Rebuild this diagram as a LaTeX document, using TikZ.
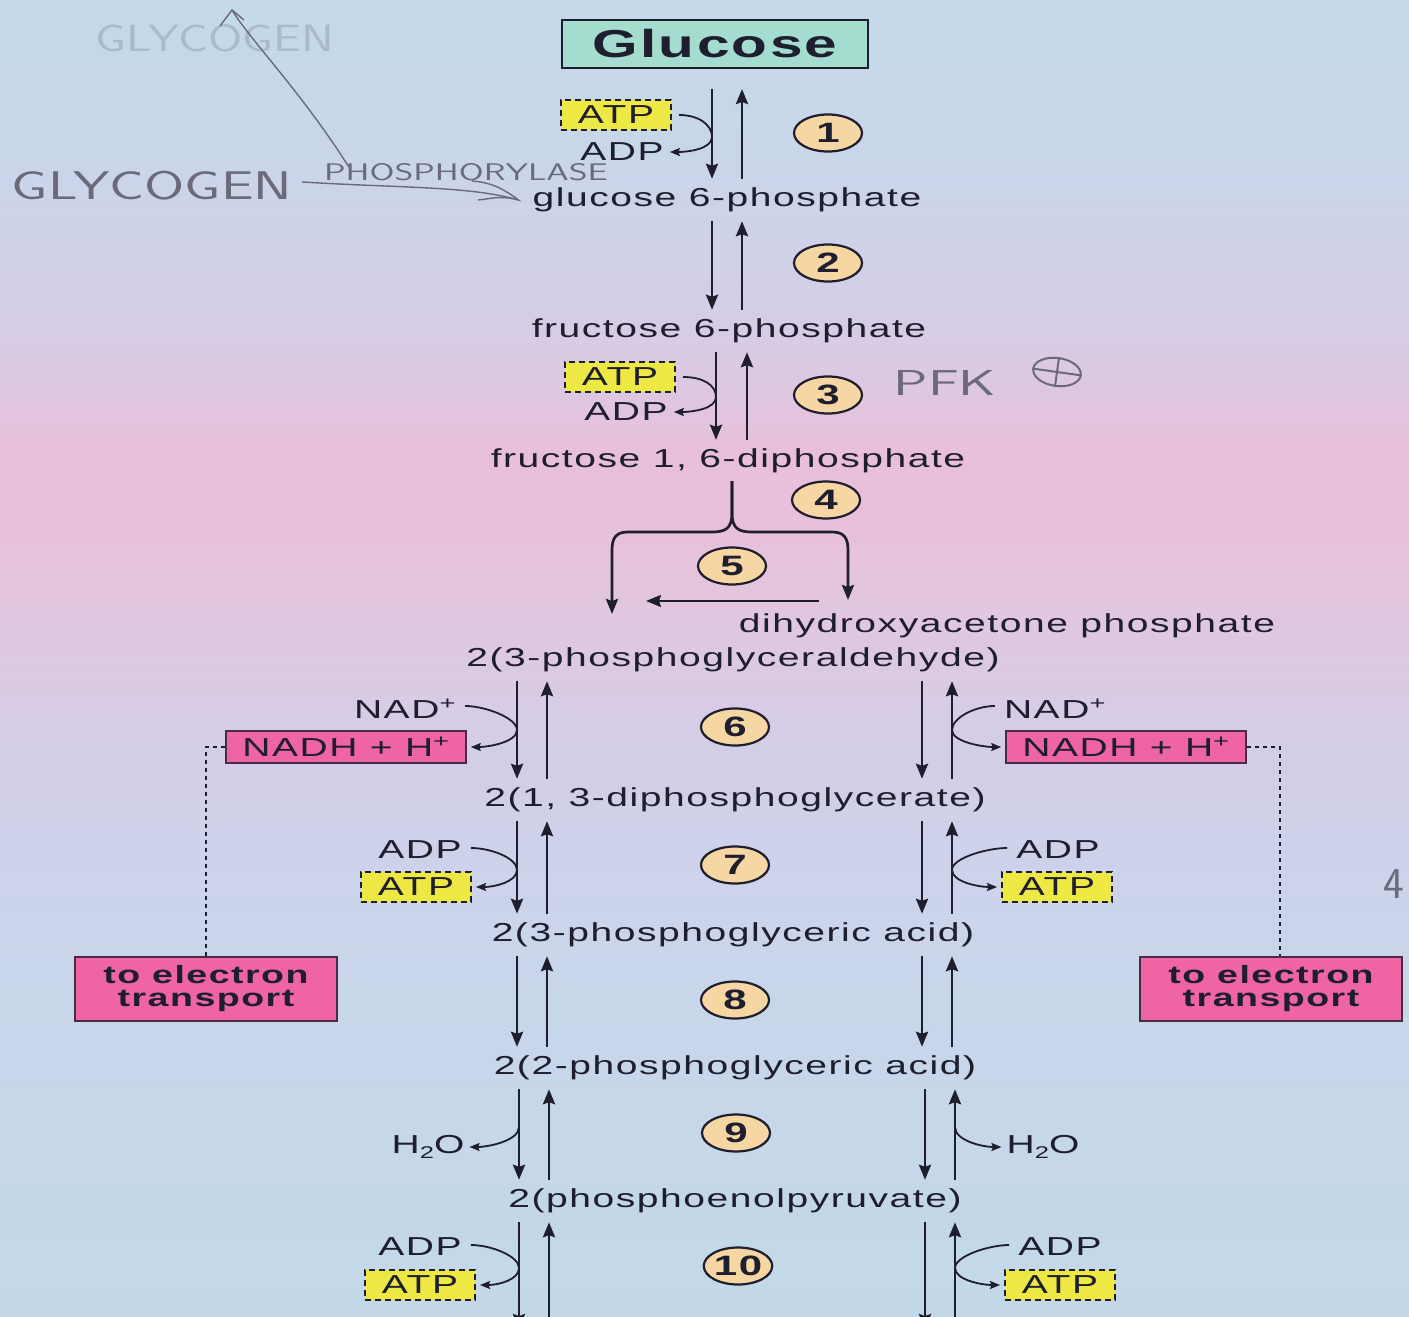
\documentclass[tikz,border=0pt]{standalone}
\usepackage{fontspec}
\setmainfont{Liberation Sans}
\newfontfamily\lab{Liberation Sans}[FakeStretch=1.5,LetterSpace=6]
\usetikzlibrary{arrows.meta,shapes.geometric}
\definecolor{ink}{HTML}{1E1E2E}
\definecolor{glcfill}{HTML}{A4DDCF}
\definecolor{atpfill}{HTML}{EEE845}
\definecolor{pinkfill}{HTML}{EE64A4}
\definecolor{numfill}{HTML}{F6D6A2}
\definecolor{handcol}{HTML}{6A6A7A}
\definecolor{bg0}{HTML}{C3D9EA}
\definecolor{bg1}{HTML}{C9D6EA}
\definecolor{bg2}{HTML}{D2CFE8}
\definecolor{bg3}{HTML}{DCC8E2}
\definecolor{bg4}{HTML}{E8C0DA}
\definecolor{bg5}{HTML}{E2C6DE}
\definecolor{bg6}{HTML}{D6CCE6}
\definecolor{bg7}{HTML}{CDD2EA}
\definecolor{bg8}{HTML}{C8D6EA}
\definecolor{bg9}{HTML}{C2D8E8}
\pgfdeclareverticalshading{bgshade}{100bp}{color(0bp)=(bg9); color(25bp)=(bg9); color(37bp)=(bg8); color(42.7bp)=(bg7); color(47.7bp)=(bg6); color(52.2bp)=(bg5); color(55bp)=(bg4); color(58bp)=(bg4); color(60.5bp)=(bg3); color(64bp)=(bg2); color(69.3bp)=(bg1); color(75bp)=(bg0); color(100bp)=(bg0)}
\newcommand{\subtwo}{\raisebox{-5pt}{\fontsize{17}{17}\selectfont 2}}
\newcommand{\hw}[2]{\scalebox{#1}[1]{#2}}
\begin{document}
\begin{tikzpicture}[x=1pt,y=-1pt,
  txt/.style={font=\lab\fontsize{26}{28}\selectfont, text=ink},
  met/.style={txt, inner sep=0pt, text height=19pt, text depth=6pt, minimum height=40pt},
  lbl/.style={txt, inner sep=1pt},
  atpbox/.style={txt, draw=ink, fill=atpfill, line width=2pt, dash pattern=on 6pt off 4pt, minimum width=110pt, minimum height=30pt, inner sep=0pt},
  nadhbox/.style={txt, draw=ink!80!pinkfill, fill=pinkfill, line width=1.6pt, minimum width=240pt, minimum height=32pt, inner sep=0pt},
  etebox/.style={font=\lab\bfseries\fontsize{25}{23}\selectfont, text=ink, draw=ink!80!pinkfill, fill=pinkfill, line width=1.6pt, minimum width=262pt, minimum height=64pt, align=center, inner sep=0pt},
  glcbox/.style={font=\lab\bfseries\fontsize{39}{40}\selectfont, text=ink, draw=ink, fill=glcfill, line width=2pt, minimum width=306pt, minimum height=48pt, inner sep=0pt},
  num/.style={ellipse, draw=ink, fill=numfill, line width=2.2pt, minimum width=68pt, minimum height=37pt, inner sep=0pt, font=\lab\bfseries\fontsize{28}{28}\selectfont, text=ink},
  rx/.style={draw=ink, line width=2.7pt, -{Stealth[length=15pt,width=12pt,inset=2pt]}, shorten <=1pt, shorten >=1pt},
  side/.style={draw=ink, line width=1.8pt, -{Stealth[length=10pt,width=8pt,inset=1.5pt]}},
  dotl/.style={draw=ink, line width=2pt, dash pattern=on 4pt off 4pt},
  hand/.style={font=\sffamily\fontsize{40}{40}\selectfont, text=handcol, inner sep=0pt},
  handline/.style={draw=handcol, line width=1.4pt}
]
\useasboundingbox (0,0) rectangle (1409,1317);
\shade[shading=bgshade] (0,0) rectangle (1409,1317);

% columns
\coordinate (d1) at (712,0); \coordinate (u1) at (742,0);
\coordinate (d3) at (716,0); \coordinate (u3) at (747,0);
\coordinate (dL) at (517,0); \coordinate (uL) at (547,0);
\coordinate (dR) at (922,0); \coordinate (uR) at (952,0);
\coordinate (dL2) at (519,0); \coordinate (uL2) at (549,0);
\coordinate (dR2) at (925,0); \coordinate (uR2) at (955,0);
\coordinate (bot) at (0,1330);

% metabolites
\node[glcbox] (glc) at (715,44) {Glucose};
\node[met] (g6p) at (727,200) {glucose 6-phosphate};
\node[met] (f6p) at (729,331) {fructose 6-phosphate};
\node[met] (f16) at (728,461) {fructose 1, 6-diphosphate};
\node[met] (dhap) at (1007,626) {dihydroxyacetone phosphate};
\node[met] (gap) at (733,660) {2(3-phosphoglyceraldehyde)};
\node[met] (bpg) at (735,800) {2(1, 3-diphosphoglycerate)};
\node[met] (pga3) at (733,935) {2(3-phosphoglyceric acid)};
\node[met] (pga2) at (735,1068) {2(2-phosphoglyceric acid)};
\node[met] (pep) at (735,1201) {2(phosphoenolpyruvate)};

% step numbers
\node[num] (n1) at (828,133) {1};
\node[num] (n2) at (828,263) {2};
\node[num] (n3) at (828,395) {3};
\node[num] (n4) at (826,500) {4};
\node[num] (n5) at (732,566) {5};
\node[num] (n6) at (735,727) {6};
\node[num] (n7) at (735,865) {7};
\node[num] (n8) at (735,1000) {8};
\node[num] (n9) at (736,1133) {9};
\node[num] (n10) at (738,1266) {10};

% cofactors
\node[atpbox] (atp1) at (616,115) {ATP};
\node[lbl] (adp1) at (622,152) {ADP};
\node[atpbox] (atp3) at (620,377) {ATP};
\node[lbl] (adp3) at (626,412) {ADP};
\node[lbl] (nadL) at (405,709) {NAD\textsuperscript{+}};
\node[nadhbox] (nadhL) at (346,747) {NADH + H\textsuperscript{+}};
\node[lbl] (nadR) at (1055,709) {NAD\textsuperscript{+}};
\node[nadhbox] (nadhR) at (1126,747) {NADH + H\textsuperscript{+}};
\node[lbl] (adp7L) at (420,850) {ADP};
\node[atpbox] (atp7L) at (416,887) {ATP};
\node[lbl] (adp7R) at (1058,850) {ADP};
\node[atpbox] (atp7R) at (1057,887) {ATP};
\node[lbl] (h2oL) at (428,1147) {H\subtwo O};
\node[lbl] (h2oR) at (1043,1147) {H\subtwo O};
\node[lbl] (adp10L) at (420,1247) {ADP};
\node[atpbox] (atp10L) at (420,1285) {ATP};
\node[lbl] (adp10R) at (1060,1247) {ADP};
\node[atpbox] (atp10R) at (1060,1285) {ATP};
\node[etebox] (eteL) at (206,989) {to electron\\transport};
\node[etebox] (eteR) at (1271,989) {to electron\\transport};

% main reaction arrows
\draw[rx, shorten <=20pt] (glc.south -| d1) -- (g6p.north -| d1);
\draw[rx, shorten >=20pt] (g6p.north -| u1) -- (glc.south -| u1);
\draw[rx] (g6p.south -| d1) -- (f6p.north -| d1);
\draw[rx] (f6p.north -| u1) -- (g6p.south -| u1);
\draw[rx] (f6p.south -| d3) -- (f16.north -| d3);
\draw[rx] (f16.north -| u3) -- (f6p.south -| u3);
\foreach \a/\b in {gap/bpg,bpg/pga3,pga3/pga2}{
  \draw[rx] (\a.south -| dL) -- (\b.north -| dL);
  \draw[rx] (\b.north -| uL) -- (\a.south -| uL);
  \draw[rx] (\a.south -| dR) -- (\b.north -| dR);
  \draw[rx] (\b.north -| uR) -- (\a.south -| uR);
}
\draw[rx] (pga2.south -| dL2) -- (pep.north -| dL2);
\draw[rx] (pep.north -| uL2) -- (pga2.south -| uL2);
\draw[rx] (pga2.south -| dR2) -- (pep.north -| dR2);
\draw[rx] (pep.north -| uR2) -- (pga2.south -| uR2);
\draw[rx] (pep.south -| dL2) -- (bot -| dL2);
\draw[rx] (bot -| uL2) -- (pep.south -| uL2);
\draw[rx] (pep.south -| dR2) -- (bot -| dR2);
\draw[rx] (bot -| uR2) -- (pep.south -| uR2);

% aldolase split (4) and isomerase (5)
\coordinate (stem) at (732,0);
\coordinate (tipL) at (612,615);
\coordinate (tipR) at (848,601);
\coordinate (isoA) at (820,601);
\coordinate (isoB) at (645,601);
\draw[rx, shorten <=0pt] (f16.south -| stem) -- (732,513) .. controls (732,528) and (726,532) .. (712,532) -- (628,532) .. controls (616,532) and (612,538) .. (612,550) -- (tipL);
\draw[rx, shorten <=0pt] (f16.south -| stem) -- (732,513) .. controls (732,528) and (738,532) .. (752,532) -- (832,532) .. controls (844,532) and (848,538) .. (848,550) -- (tipR);
\draw[rx, line width=2.2pt] (isoA) -- (isoB);

% side reactions
\coordinate (t1) at (712,137);
\coordinate (t3) at (716,397);
\coordinate (t6L) at (517,730); \coordinate (t6R) at (952,730);
\coordinate (t7L) at (517,870); \coordinate (t7R) at (952,870);
\coordinate (t9L) at (519,1127); \coordinate (t9R) at (955,1127);
\coordinate (t10L) at (519,1268); \coordinate (t10R) at (955,1268);
\draw[side] ([xshift=7pt]atp1.east) .. controls +(20,0) and +(0,-12) .. (t1) .. controls +(0,12) and +(18,0) .. ([xshift=5pt]adp1.east);
\draw[side] ([xshift=7pt]atp3.east) .. controls +(20,0) and +(0,-12) .. (t3) .. controls +(0,12) and +(18,0) .. ([xshift=5pt]adp3.east);
\draw[side] ([xshift=8pt,yshift=3pt]nadL.east) .. controls +(20,0) and +(0,-12) .. (t6L) .. controls +(0,12) and +(18,0) .. ([xshift=4pt]nadhL.east);
\draw[side] ([xshift=-8pt,yshift=3pt]nadR.west) .. controls +(-20,0) and +(0,-12) .. (t6R) .. controls +(0,12) and +(-18,0) .. ([xshift=-4pt]nadhR.west);
\draw[side] ([xshift=8pt,yshift=2pt]adp7L.east) .. controls +(20,0) and +(0,-12) .. (t7L) .. controls +(0,12) and +(18,0) .. ([xshift=4pt]atp7L.east);
\draw[side] ([xshift=-8pt,yshift=2pt]adp7R.west) .. controls +(-20,0) and +(0,-12) .. (t7R) .. controls +(0,12) and +(-18,0) .. ([xshift=-4pt]atp7R.west);
\draw[side] (t9L) .. controls +(0,14) and +(18,0) .. ([xshift=4pt]h2oL.east);
\draw[side] (t9R) .. controls +(0,14) and +(-18,0) .. ([xshift=-4pt]h2oR.west);
\draw[side] ([xshift=8pt,yshift=2pt]adp10L.east) .. controls +(20,0) and +(0,-12) .. (t10L) .. controls +(0,12) and +(18,0) .. ([xshift=4pt]atp10L.east);
\draw[side] ([xshift=-8pt,yshift=2pt]adp10R.west) .. controls +(-20,0) and +(0,-12) .. (t10R) .. controls +(0,12) and +(-18,0) .. ([xshift=-4pt]atp10R.west);

% to electron transport
\draw[dotl] (nadhL.west) -| (eteL.north);
\draw[dotl] (nadhR.east) -| ([xshift=9pt]eteR.north);

% handwritten notes
\node[hand, font=\sffamily\fontsize{38}{38}\selectfont, text=handcol!28!bg0] (hw0) at (215,38) {\hw{1.3}{GLYCOGEN}};
\node[hand] (hw1) at (152,186) {\hw{1.45}{GLYCOGEN}};
\node[hand, font=\sffamily\fontsize{24}{24}\selectfont] (hw2) at (466,172) {\hw{1.5}{PHOSPHORYLASE}};
\coordinate (hwtip) at (232,10);
\draw[handline] ([xshift=25pt,yshift=-4pt]hw2.north west) .. controls (300,90) and (250,40) .. (hwtip);
\draw[handline] (220,26) -- (hwtip) -- (244,20);
\draw[handline] ([xshift=10pt,yshift=4pt]hw1.east) .. controls (400,188) and (470,186) .. ([xshift=-14pt]g6p.west);
\draw[handline] (472,181) .. controls (487,182) and (500,186) .. ([xshift=-14pt]g6p.west) .. controls (500,195) and (490,199) .. (478,200);
\node[hand, font=\sffamily\fontsize{36}{36}\selectfont] (pfk) at (945,383) {\hw{1.6}{PFK}};
\node[draw=handcol, line width=2pt, ellipse, minimum width=48pt, minimum height=28pt, inner sep=0pt, rotate=-8] (pfkp) at (1057,372) {};
\draw[handline, line width=2pt] (pfkp.north) -- (pfkp.south) (pfkp.west) -- (pfkp.east);
\node[hand, font=\sffamily\fontsize{44}{44}\selectfont] (hw4) at (1394,884) {4};
\end{tikzpicture}
\end{document}
